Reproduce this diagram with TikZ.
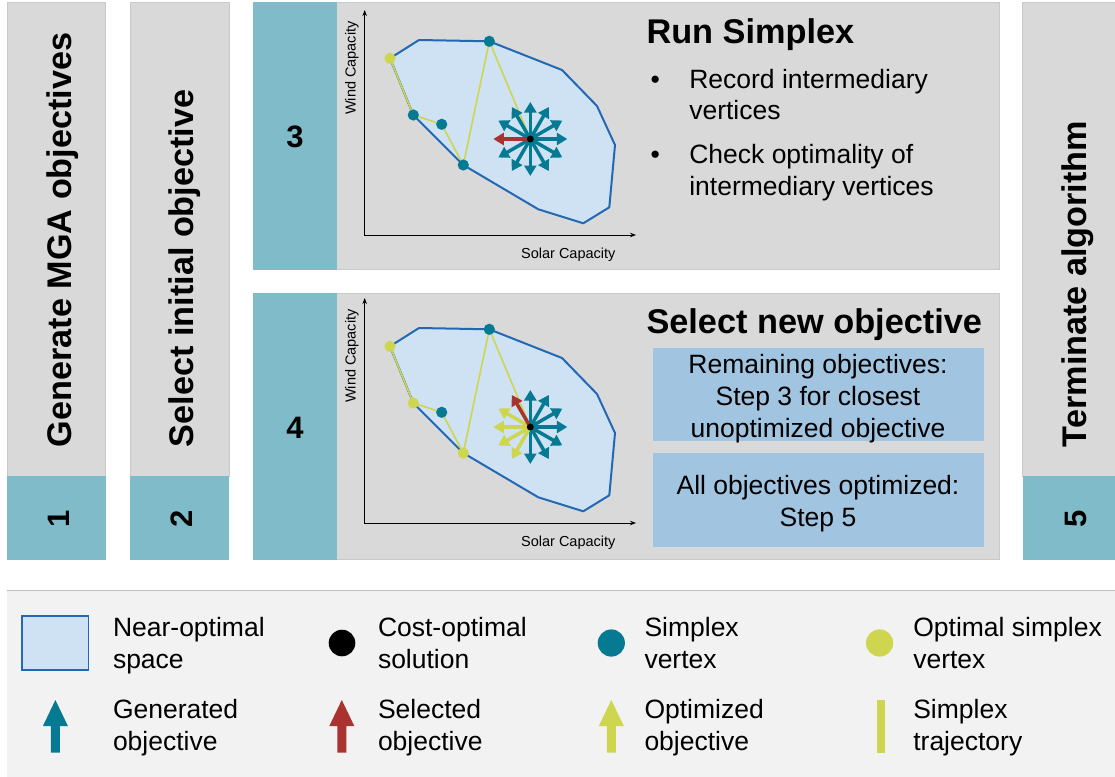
\documentclass[tikz,border=0pt]{standalone}
\usepackage{fontspec}
\setmainfont{Liberation Sans}
\usetikzlibrary{arrows.meta}
\definecolor{panelgray}{HTML}{D9D9D9}
\definecolor{paneledge}{HTML}{C9C9C9}
\definecolor{tealstrip}{HTML}{80BBC9}
\definecolor{tealdark}{HTML}{067A93}
\definecolor{yellowg}{HTML}{CDD64E}
\definecolor{redobj}{HTML}{A9342F}
\definecolor{polyfill}{HTML}{CFE2F3}
\definecolor{polyline}{HTML}{2268B4}
\definecolor{boxblue}{HTML}{A1C4E1}
\definecolor{legendbg}{HTML}{F2F2F2}
\definecolor{legendline}{HTML}{BFBFBF}
\newcommand\linesl[1]{\vtop{\baselineskip=32pt\halign{##\hfil\cr#1\crcr}}}
\newcommand\linesc[1]{\vtop{\baselineskip=32pt\halign{\hfil##\hfil\cr#1\crcr}}}
\begin{document}
\begin{tikzpicture}[x=1pt,y=-1pt,
  every node/.style={inner sep=0pt,outer sep=0pt},
  graybox/.style={fill=panelgray,draw=paneledge,line width=0.6pt},
  tealbox/.style={fill=tealstrip},
  steptitle/.style={rotate=90,anchor=base west,font=\bfseries\fontsize{34.2}{38}\selectfont},
  stepnumrot/.style={rotate=90,anchor=base,font=\bfseries\fontsize{31}{36}\selectfont},
  stepnum/.style={anchor=center,font=\bfseries\fontsize{31}{36}\selectfont},
  heading/.style={anchor=base west,font=\bfseries\fontsize{34.3}{38}\selectfont},
  body/.style={font=\fontsize{26.5}{32}\selectfont},
  axlabel/.style={font=\fontsize{14.5}{17}\selectfont},
  axisline/.style={draw=black,line width=1pt,{Stealth[length=6pt,width=4.5pt]}-{Stealth[length=6pt,width=4.5pt]}},
  hull/.style={draw=polyline,fill=polyfill,line width=2pt,line join=round},
  traj/.style={draw=yellowg,line width=1.6pt,line join=round},
  objarrow/.style={line width=3.5pt,-{Triangle[width=12pt,length=10.5pt]}}
]
\useasboundingbox (0,0) rectangle (1115,776);
\fill[white] (0,0) rectangle (1115,776);

% ---- column 1
\path[graybox] (7,2) rectangle (105.5,476);
\fill[tealstrip] (7,476) rectangle (105.5,559.5);
\node[steptitle] (t1) at (71,447) {Generate MGA objectives};
\node[stepnumrot] (n1) at (69,519) {1};
% ---- column 2
\path[graybox] (130,2) rectangle (229,476);
\fill[tealstrip] (130,476) rectangle (229,559.5);
\node[steptitle] (t2) at (193.3,447) {Select initial objective};
\node[stepnumrot] (n2) at (192.7,518.5) {2};
% ---- column 5
\path[graybox] (1022.5,2) rectangle (1116,476);
\fill[tealstrip] (1022.5,476) rectangle (1116,559.5);
\node[steptitle] (t5) at (1086.5,447) {Terminate algorithm};
\node[stepnumrot] (n5) at (1086,518.5) {5};

% ---- panel 3
\path[graybox] (253,2.5) rectangle (999,269.5);
\fill[tealstrip] (253,2.5) rectangle (337,269.5);
\node[stepnum] (n3) at (295,137) {3};
\node[heading] (h3) at (646.5,43.3) {Run Simplex};
\node[body,anchor=base west] (b31) at (650.5,88) {•};
\node[body,anchor=base west] (l31) at (689.3,88) {\linesl{Record intermediary\cr vertices}};
\node[body,anchor=base west] (b32) at (650.5,163.5) {•};
\node[body,anchor=base west] (l32) at (689.3,163.5) {\linesl{Check optimality of\cr intermediary vertices}};

% ---- panel 4
\path[graybox] (253,293) rectangle (999,559.5);
\fill[tealstrip] (253,293) rectangle (337,559.5);
\node[stepnum] (n4) at (295,428) {4};
\node[heading] (h4) at (646.5,333.3) {Select new objective};
\fill[boxblue] (652.5,347.7) rectangle (983.5,441);
\node[body,anchor=base] (r1) at (818,373) {\linesc{Remaining objectives:\cr Step 3 for closest\cr unoptimized objective}};
\fill[boxblue] (652.5,453) rectangle (983.5,546.7);
\node[body,anchor=base] (r2) at (818,494.5) {\linesc{All objectives optimized:\cr Step 5}};

% ---- plots
\foreach \p/\dy in {A/0,B/288}{
  \begin{scope}[shift={(0,\dy)}]
    \path[hull] (390,58.3) -- (419,40) -- (489.3,41.3) -- (562,70) -- (597,106) -- (615,145)
      -- (609.3,207.3) -- (583.3,223.3) -- (538.3,209.3) -- (463.3,165) -- (413.3,115) -- cycle;
    \draw[axisline] (364.7,10) -- (364.7,235) -- (636,235);
    \node[axlabel,rotate=90,anchor=base] (\p wind) at (355.5,68) {Wind Capacity};
    \node[axlabel,anchor=base] (\p solar) at (568.3,258.3) {Solar Capacity};
    \coordinate (\p c) at (530.3,139);
    \coordinate (\p v0) at (390,58.3);
    \coordinate (\p v1) at (489.3,41.3);
    \coordinate (\p v2) at (413.3,115);
    \coordinate (\p v3) at (441.7,124.3);
    \coordinate (\p v4) at (463.3,165);
    \draw[traj] (\p c) -- (\p v1) -- (\p v4) -- (\p v3) -- (\p v2) -- (\p v0);
  \end{scope}
}
% panel 3 vertices
\fill[yellowg] (Av0) circle (5.6);
\foreach \v in {Av1,Av2,Av3,Av4} \fill[tealdark] (\v) circle (5.6);
\foreach \a in {0,30,...,150,210,240,...,330} \draw[objarrow,tealdark] (Ac) -- ++(-\a:37);
\draw[objarrow,redobj] (Ac) -- ++(-180:37);
\fill[black] (Ac) circle (3.5);
% panel 4 vertices
\foreach \v in {Bv0,Bv2,Bv4} \fill[yellowg] (\v) circle (5.6);
\foreach \v in {Bv1,Bv3} \fill[tealdark] (\v) circle (5.6);
\foreach \a in {0,30,60,90,270,300,330} \draw[objarrow,tealdark] (Bc) -- ++(-\a:37);
\foreach \a in {150,180,210,240} \draw[objarrow,yellowg] (Bc) -- ++(-\a:37);
\draw[objarrow,redobj] (Bc) -- ++(-120:37);
\fill[black] (Bc) circle (3.5);

% ---- legend
\fill[legendbg] (7,590.7) rectangle (1116,777);
\draw[legendline,line width=1pt] (7,590.7) -- (1116,590.7);
\draw[draw=polyline,fill=polyfill,line width=1.6pt] (21.7,615.7) rectangle (88.3,670);
\node[body,anchor=base west] (lg1) at (113,636) {\linesl{Near-optimal\cr space}};
\fill[black] (342,643) circle (13.3);
\node[body,anchor=base west] (lg2) at (378,636) {\linesl{Cost-optimal\cr solution}};
\fill[tealdark] (611.3,643) circle (13.6);
\node[body,anchor=base west] (lg3) at (644.5,636) {\linesl{Simplex\cr vertex}};
\fill[yellowg] (879.6,643) circle (13.6);
\node[body,anchor=base west] (lg4) at (913.3,636) {\linesl{Optimal simplex\cr vertex}};
\foreach \x/\c in {55.4/tealdark,341.8/redobj,611.3/yellowg}{
  \fill[\c] (\x-4.5,752.7) -- (\x-4.5,726) -- (\x-12.5,726) -- (\x,700) -- (\x+12.5,726)
    -- (\x+4.5,726) -- (\x+4.5,752.7) -- cycle;
}
\node[body,anchor=base west] (lg5) at (113,718.5) {\linesl{Generated\cr objective}};
\node[body,anchor=base west] (lg6) at (378,718.5) {\linesl{Selected\cr objective}};
\node[body,anchor=base west] (lg7) at (644.5,718.5) {\linesl{Optimized\cr objective}};
\fill[yellowg] (877.4,700) rectangle (885.4,752.7);
\node[body,anchor=base west] (lg8) at (913.3,718.5) {\linesl{Simplex\cr trajectory}};
\end{tikzpicture}
\end{document}
